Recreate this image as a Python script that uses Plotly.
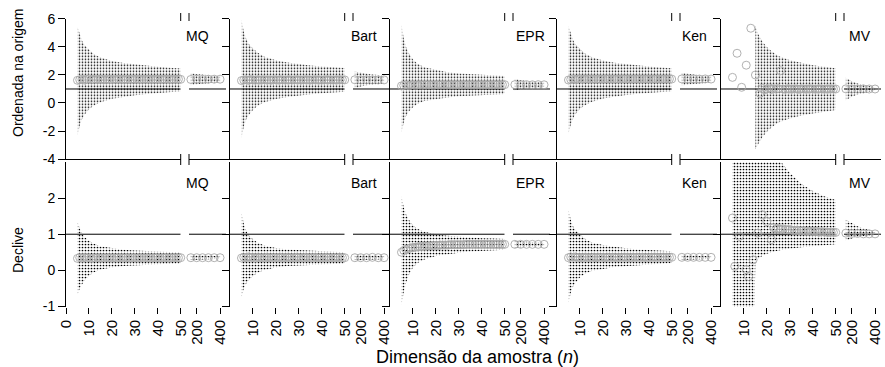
import plotly.graph_objects as go

# ---------------------------------------------------------------- data
METHODS = ["MQ", "Bart", "EPR", "Ken", "MV"]
N_SMALL = [5, 6, 7, 8, 9, 10, 11, 12, 13, 14,
           15, 16, 17, 18, 19, 20, 21, 22, 23, 24,
           25, 26, 27, 28, 29, 30, 31, 32, 33, 34,
           35, 36, 37, 38, 39, 40, 41, 42, 43, 44,
           45, 46, 47, 48, 49, 50]
N_LARGE = [150, 200, 250, 300, 350, 400]
BAND_N = [5, 6, 7, 8, 10, 12, 15, 20, 25, 30, 35, 40, 45, 50]
MV_BAND_N_INT = [15, 16, 18, 20, 22, 25, 30, 35, 40, 45, 50]
MV_BAND_N_SLOPE = [5, 14, 15, 18, 20, 25, 30, 35, 40, 45, 50]
TRUE_INTERCEPT = 1.0
TRUE_SLOPE = 1.0
X_TICKS_SMALL_FIRST = [0, 10, 20, 30, 40, 50]
X_TICKS_SMALL = [10, 20, 30, 40, 50]
X_TICKS_LARGE = [200, 400]
Y_TICKS_INT = [-4, -2, 0, 2, 4, 6]
Y_TICKTEXT_INT = ["-4", "-2", "0", "2", "4", "6"]
Y_TICKS_SLOPE = [-1, 0, 1, 2]
Y_TICKTEXT_SLOPE = ["-1", "0", "1", "2"]

# ---- intercept ("Ordenada na origem"), mean estimates for N_SMALL
MQ_INT_MEAN = [1.62, 1.66, 1.70, 1.64, 1.68, 1.72, 1.66, 1.69, 1.71, 1.67,
               1.70, 1.68, 1.66, 1.70, 1.69, 1.67, 1.71, 1.68, 1.70, 1.69,
               1.67, 1.70, 1.68, 1.69, 1.71, 1.68, 1.70, 1.69, 1.68, 1.70,
               1.69, 1.70, 1.68, 1.69, 1.70, 1.69, 1.68, 1.70, 1.69, 1.70,
               1.69, 1.68, 1.70, 1.69, 1.70, 1.69]
BART_INT_MEAN = [1.60, 1.64, 1.66, 1.62, 1.67, 1.65, 1.63, 1.66, 1.64, 1.65,
                 1.66, 1.64, 1.65, 1.63, 1.66, 1.65, 1.64, 1.66, 1.65, 1.64,
                 1.65, 1.66, 1.64, 1.65, 1.66, 1.65, 1.64, 1.65, 1.66, 1.65,
                 1.64, 1.65, 1.66, 1.65, 1.65, 1.64, 1.65, 1.66, 1.65, 1.65,
                 1.64, 1.65, 1.65, 1.66, 1.65, 1.65]
EPR_INT_MEAN = [1.22, 1.26, 1.30, 1.24, 1.28, 1.31, 1.27, 1.29, 1.32, 1.28,
                1.30, 1.29, 1.31, 1.30, 1.28, 1.31, 1.30, 1.29, 1.31, 1.30,
                1.29, 1.31, 1.30, 1.30, 1.31, 1.29, 1.30, 1.31, 1.30, 1.30,
                1.31, 1.30, 1.29, 1.30, 1.31, 1.30, 1.30, 1.31, 1.30, 1.30,
                1.31, 1.30, 1.30, 1.31, 1.30, 1.31]
KEN_INT_MEAN = [1.64, 1.68, 1.72, 1.66, 1.70, 1.74, 1.69, 1.72, 1.73, 1.70,
                1.72, 1.71, 1.69, 1.72, 1.71, 1.70, 1.73, 1.71, 1.72, 1.71,
                1.70, 1.72, 1.71, 1.72, 1.73, 1.71, 1.72, 1.71, 1.71, 1.72,
                1.71, 1.72, 1.71, 1.72, 1.72, 1.71, 1.71, 1.72, 1.71, 1.72,
                1.71, 1.71, 1.72, 1.71, 1.72, 1.71]
MV_INT_MEAN = [1.83, None, 3.55, None, 1.12, None, 2.70, None, 5.34, None,
               2.00, None, 0.69, 1.05, 0.95, 1.00, 1.08, 0.97, 1.02, 0.99,
               1.03, 2.30, 1.00, 0.98, 1.02, 1.00, 0.99, 1.01, 1.00, 0.98,
               1.01, 1.00, 0.99, 1.00, 1.01, 1.00, 0.99, 1.00, 1.01, 1.00,
               0.99, 1.00, 1.00, 1.01, 1.00, 1.00]

# ---- intercept bands (BAND_N; MV uses MV_BAND_N_INT)
MQ_INT_HI = [5.45, 4.85, 4.45, 4.15, 3.80, 3.50, 3.25, 3.00, 2.85, 2.75, 2.65, 2.58, 2.52, 2.47]
MQ_INT_LO = [-2.30, -1.60, -1.15, -0.85, -0.45, -0.20, 0.05, 0.30, 0.45, 0.55, 0.65, 0.72, 0.78, 0.83]
BART_INT_HI = [5.95, 5.10, 4.60, 4.25, 3.90, 3.60, 3.30, 3.05, 2.90, 2.78, 2.68, 2.60, 2.54, 2.50]
BART_INT_LO = [-2.50, -1.70, -1.20, -0.90, -0.50, -0.20, 0.05, 0.28, 0.42, 0.53, 0.62, 0.70, 0.76, 0.80]
EPR_INT_HI = [5.60, 4.60, 4.00, 3.60, 3.10, 2.80, 2.55, 2.35, 2.20, 2.10, 2.05, 2.00, 1.96, 1.93]
EPR_INT_LO = [-2.10, -1.40, -0.95, -0.65, -0.30, -0.05, 0.15, 0.30, 0.40, 0.48, 0.53, 0.58, 0.62, 0.65]
KEN_INT_HI = [5.50, 4.90, 4.50, 4.20, 3.85, 3.55, 3.28, 3.03, 2.88, 2.77, 2.67, 2.60, 2.54, 2.49]
KEN_INT_LO = [-2.20, -1.55, -1.10, -0.80, -0.42, -0.18, 0.07, 0.32, 0.47, 0.57, 0.66, 0.73, 0.79, 0.84]
MV_INT_HI = [5.50, 5.00, 4.40, 4.00, 3.70, 3.35, 3.05, 2.85, 2.70, 2.58, 2.48]
MV_INT_LO = [-3.30, -3.00, -2.45, -2.05, -1.75, -1.40, -1.10, -0.90, -0.75, -0.60, -0.50]

# ---- intercept, large samples (N_LARGE)
MQ_INT_MEAN_L = [1.68, 1.70, 1.69, 1.70, 1.70, 1.70]
MQ_INT_HI_L = [2.10, 2.05, 2.00, 1.97, 1.95, 1.93]
MQ_INT_LO_L = [1.27, 1.33, 1.38, 1.42, 1.45, 1.47]
BART_INT_MEAN_L = [1.66, 1.65, 1.66, 1.65, 1.65, 1.65]
BART_INT_HI_L = [2.25, 2.15, 2.08, 2.03, 2.00, 1.97]
BART_INT_LO_L = [1.05, 1.18, 1.27, 1.33, 1.37, 1.40]
EPR_INT_MEAN_L = [1.31, 1.30, 1.31, 1.30, 1.31, 1.30]
EPR_INT_HI_L = [1.70, 1.62, 1.57, 1.53, 1.50, 1.48]
EPR_INT_LO_L = [0.90, 1.00, 1.06, 1.10, 1.13, 1.15]
KEN_INT_MEAN_L = [1.72, 1.71, 1.72, 1.71, 1.72, 1.71]
KEN_INT_HI_L = [2.15, 2.08, 2.02, 1.98, 1.95, 1.93]
KEN_INT_LO_L = [1.25, 1.32, 1.37, 1.41, 1.44, 1.47]
MV_INT_MEAN_L = [1.01, 1.00, 1.00, 1.01, 1.00, 1.00]
MV_INT_HI_L = [1.80, 1.55, 1.40, 1.30, 1.20, 1.12]
MV_INT_LO_L = [0.20, 0.45, 0.60, 0.70, 0.80, 0.88]

# ---- slope ("Declive"), mean estimates for N_SMALL
MQ_SLOPE_MEAN = [0.33, 0.35, 0.34, 0.36, 0.34, 0.35, 0.33, 0.35, 0.34, 0.35,
                 0.34, 0.35, 0.34, 0.35, 0.35, 0.34, 0.35, 0.34, 0.35, 0.35,
                 0.34, 0.35, 0.35, 0.34, 0.35, 0.35, 0.34, 0.35, 0.35, 0.34,
                 0.35, 0.35, 0.34, 0.35, 0.35, 0.35, 0.34, 0.35, 0.35, 0.35,
                 0.34, 0.35, 0.35, 0.35, 0.35, 0.35]
BART_SLOPE_MEAN = [0.34, 0.36, 0.35, 0.37, 0.35, 0.36, 0.34, 0.36, 0.35, 0.35,
                   0.35, 0.36, 0.35, 0.35, 0.36, 0.35, 0.35, 0.36, 0.35, 0.35,
                   0.36, 0.35, 0.35, 0.35, 0.36, 0.35, 0.35, 0.35, 0.36, 0.35,
                   0.35, 0.35, 0.36, 0.35, 0.35, 0.35, 0.35, 0.36, 0.35, 0.35,
                   0.35, 0.35, 0.35, 0.36, 0.35, 0.35]
EPR_SLOPE_MEAN = [0.50, 0.55, 0.58, 0.60, 0.62, 0.63, 0.64, 0.65, 0.66, 0.66,
                  0.67, 0.67, 0.68, 0.68, 0.69, 0.69, 0.69, 0.70, 0.70, 0.70,
                  0.70, 0.71, 0.71, 0.71, 0.71, 0.71, 0.71, 0.71, 0.72, 0.72,
                  0.72, 0.72, 0.72, 0.72, 0.72, 0.72, 0.72, 0.72, 0.72, 0.72,
                  0.72, 0.72, 0.72, 0.72, 0.72, 0.72]
KEN_SLOPE_MEAN = [0.35, 0.37, 0.36, 0.37, 0.35, 0.36, 0.35, 0.36, 0.36, 0.35,
                  0.36, 0.36, 0.35, 0.36, 0.36, 0.36, 0.35, 0.36, 0.36, 0.36,
                  0.36, 0.35, 0.36, 0.36, 0.36, 0.36, 0.36, 0.35, 0.36, 0.36,
                  0.36, 0.36, 0.36, 0.36, 0.35, 0.36, 0.36, 0.36, 0.36, 0.36,
                  0.36, 0.36, 0.36, 0.36, 0.36, 0.36]
MV_SLOPE_MEAN = [1.45, 0.11, None, 0.94, None, None, 0.02, -0.17, None, 0.29,
                 None, 1.03, None, 1.54, None, 1.35, None, 0.85, 1.18, 1.15,
                 1.16, 1.14, 1.15, 1.13, 1.12, 1.13, 1.11, 1.10, 1.11, 1.10,
                 1.09, 1.10, 1.08, 1.09, 1.08, 1.07, 1.08, 1.07, 1.06, 1.07,
                 1.06, 1.06, 1.05, 1.06, 1.05, 1.05]

# ---- slope bands (BAND_N; MV uses MV_BAND_N_SLOPE)
MQ_SLOPE_HI = [1.35, 1.15, 1.02, 0.93, 0.82, 0.74, 0.67, 0.61, 0.57, 0.55, 0.53, 0.52, 0.51, 0.50]
MQ_SLOPE_LO = [-0.68, -0.50, -0.38, -0.28, -0.15, -0.06, 0.02, 0.08, 0.12, 0.14, 0.16, 0.17, 0.18, 0.19]
BART_SLOPE_HI = [1.60, 1.30, 1.10, 0.98, 0.86, 0.77, 0.69, 0.62, 0.58, 0.56, 0.54, 0.52, 0.51, 0.50]
BART_SLOPE_LO = [-0.76, -0.50, -0.37, -0.28, -0.16, -0.07, 0.01, 0.08, 0.12, 0.14, 0.16, 0.17, 0.18, 0.19]
EPR_SLOPE_HI = [2.05, 1.75, 1.55, 1.42, 1.25, 1.15, 1.07, 1.00, 0.96, 0.93, 0.91, 0.89, 0.88, 0.87]
EPR_SLOPE_LO = [-0.95, -0.60, -0.35, -0.15, 0.08, 0.20, 0.30, 0.40, 0.45, 0.49, 0.52, 0.54, 0.56, 0.57]
KEN_SLOPE_HI = [1.68, 1.40, 1.22, 1.12, 1.00, 0.88, 0.78, 0.70, 0.65, 0.61, 0.58, 0.56, 0.54, 0.53]
KEN_SLOPE_LO = [-0.90, -0.62, -0.45, -0.35, -0.20, -0.10, -0.02, 0.04, 0.09, 0.12, 0.15, 0.17, 0.18, 0.20]
MV_SLOPE_HI = [6.00, 6.00, 5.00, 4.20, 3.80, 3.10, 2.70, 2.40, 2.20, 2.05, 1.95]
MV_SLOPE_LO = [-3.00, -3.00, 0.28, 0.40, 0.46, 0.55, 0.60, 0.64, 0.67, 0.70, 0.72]

# ---- slope, large samples (N_LARGE)
MQ_SLOPE_MEAN_L = [0.35, 0.35, 0.35, 0.35, 0.35, 0.35]
MQ_SLOPE_HI_L = [0.44, 0.42, 0.41, 0.40, 0.40, 0.39]
MQ_SLOPE_LO_L = [0.27, 0.29, 0.30, 0.31, 0.32, 0.32]
BART_SLOPE_MEAN_L = [0.35, 0.35, 0.35, 0.36, 0.35, 0.35]
BART_SLOPE_HI_L = [0.45, 0.43, 0.42, 0.41, 0.40, 0.40]
BART_SLOPE_LO_L = [0.26, 0.28, 0.29, 0.30, 0.31, 0.31]
EPR_SLOPE_MEAN_L = [0.72, 0.72, 0.72, 0.72, 0.72, 0.72]
EPR_SLOPE_HI_L = [0.82, 0.80, 0.79, 0.78, 0.77, 0.77]
EPR_SLOPE_LO_L = [0.62, 0.64, 0.65, 0.66, 0.67, 0.67]
KEN_SLOPE_MEAN_L = [0.36, 0.36, 0.36, 0.36, 0.36, 0.36]
KEN_SLOPE_HI_L = [0.44, 0.42, 0.41, 0.40, 0.40, 0.39]
KEN_SLOPE_LO_L = [0.27, 0.29, 0.30, 0.31, 0.32, 0.32]
MV_SLOPE_MEAN_L = [1.03, 1.02, 1.02, 1.01, 1.01, 1.01]
MV_SLOPE_HI_L = [1.40, 1.30, 1.22, 1.16, 1.12, 1.08]
MV_SLOPE_LO_L = [0.82, 0.88, 0.92, 0.95, 0.97, 0.99]

ROWS = [
    dict(title="Ordenada na origem", truth=TRUE_INTERCEPT, yrange=[-4, 6.02],
         yticks=Y_TICKS_INT, yticktext=Y_TICKTEXT_INT,
         panels={
             "MQ": (BAND_N, MQ_INT_LO, MQ_INT_HI, MQ_INT_MEAN, MQ_INT_LO_L, MQ_INT_HI_L, MQ_INT_MEAN_L),
             "Bart": (BAND_N, BART_INT_LO, BART_INT_HI, BART_INT_MEAN, BART_INT_LO_L, BART_INT_HI_L, BART_INT_MEAN_L),
             "EPR": (BAND_N, EPR_INT_LO, EPR_INT_HI, EPR_INT_MEAN, EPR_INT_LO_L, EPR_INT_HI_L, EPR_INT_MEAN_L),
             "Ken": (BAND_N, KEN_INT_LO, KEN_INT_HI, KEN_INT_MEAN, KEN_INT_LO_L, KEN_INT_HI_L, KEN_INT_MEAN_L),
             "MV": (MV_BAND_N_INT, MV_INT_LO, MV_INT_HI, MV_INT_MEAN, MV_INT_LO_L, MV_INT_HI_L, MV_INT_MEAN_L),
         }),
    dict(title="Declive", truth=TRUE_SLOPE, yrange=[-1.01, 3],
         yticks=Y_TICKS_SLOPE, yticktext=Y_TICKTEXT_SLOPE,
         panels={
             "MQ": (BAND_N, MQ_SLOPE_LO, MQ_SLOPE_HI, MQ_SLOPE_MEAN, MQ_SLOPE_LO_L, MQ_SLOPE_HI_L, MQ_SLOPE_MEAN_L),
             "Bart": (BAND_N, BART_SLOPE_LO, BART_SLOPE_HI, BART_SLOPE_MEAN, BART_SLOPE_LO_L, BART_SLOPE_HI_L, BART_SLOPE_MEAN_L),
             "EPR": (BAND_N, EPR_SLOPE_LO, EPR_SLOPE_HI, EPR_SLOPE_MEAN, EPR_SLOPE_LO_L, EPR_SLOPE_HI_L, EPR_SLOPE_MEAN_L),
             "Ken": (BAND_N, KEN_SLOPE_LO, KEN_SLOPE_HI, KEN_SLOPE_MEAN, KEN_SLOPE_LO_L, KEN_SLOPE_HI_L, KEN_SLOPE_MEAN_L),
             "MV": (MV_BAND_N_SLOPE, MV_SLOPE_LO, MV_SLOPE_HI, MV_SLOPE_MEAN, MV_SLOPE_LO_L, MV_SLOPE_HI_L, MV_SLOPE_MEAN_L),
         }),
]

# ---------------------------------------------------------------- layout geometry (pixels)
W, H = 885, 367
FONT = "Liberation Sans, Arial, sans-serif"
PANEL_X0 = [66, 230, 390, 557, 721]          # x pixel of n = 0 in each column
LABEL_X = [197.5, 363.5, 530, 694, 860]      # centre of the method labels
MAIN_W = 114.7                               # width of the 0..50 segment
SMALL_OFF, SMALL_END = 123, 160              # large-n segment, relative to panel origin
SMALL_RANGE = [134, 451]
ROW_PX = [(18.7, 159), (162, 306.8)]         # (top, bottom) pixel of each row
ROW_TITLE_Y = [73, 250]
ROW_LABEL_Y = [36, 182.5]


def px(x):
    return x / W


def py(y):
    return 1 - y / H


fig = go.Figure()
layout = dict(width=W, height=H, margin=dict(l=0, r=0, t=0, b=0, autoexpand=False),
              paper_bgcolor="white", plot_bgcolor="rgba(0,0,0,0)",
              showlegend=False, font=dict(family=FONT, size=13, color="black"))
shapes, annotations = [], []

PATTERN = dict(shape=".", size=3, solidity=0.25, fgcolor="#000000",
               bgcolor="rgba(0,0,0,0)", fillmode="replace")
CIRCLE = dict(symbol="circle-open", size=8, color="#a8a8a8",
              line=dict(width=0.9, color="#a8a8a8"))

for r, row in enumerate(ROWS):
    top_px, bot_px = ROW_PX[r]
    for c, m in enumerate(METHODS):
        k = r * 5 + c
        xm, xs, yi = 2 * k + 1, 2 * k + 2, k + 1
        xm_ref = "x" if xm == 1 else f"x{xm}"
        xs_ref = f"x{xs}"
        y_ref = "y" if yi == 1 else f"y{yi}"
        o = PANEL_X0[c]
        bn, lo, hi, mean, lo_l, hi_l, mean_l = row["panels"][m]

        # dotted bands
        fig.add_trace(go.Scatter(x=bn + bn[::-1], y=hi + lo[::-1], xaxis=xm_ref, yaxis=y_ref,
                                 fill="toself", mode="lines", line=dict(width=0),
                                 fillcolor="rgba(0,0,0,0)", fillpattern=PATTERN, hoverinfo="skip"))
        fig.add_trace(go.Scatter(x=N_LARGE + N_LARGE[::-1], y=hi_l + lo_l[::-1], xaxis=xs_ref,
                                 yaxis=y_ref, fill="toself", mode="lines", line=dict(width=0),
                                 fillcolor="rgba(0,0,0,0)", fillpattern=PATTERN, hoverinfo="skip"))
        # true value line
        fig.add_trace(go.Scatter(x=[0, 50], y=[row["truth"]] * 2, xaxis=xm_ref, yaxis=y_ref,
                                 mode="lines", line=dict(color="black", width=1), hoverinfo="skip"))
        fig.add_trace(go.Scatter(x=SMALL_RANGE, y=[row["truth"]] * 2, xaxis=xs_ref, yaxis=y_ref,
                                 mode="lines", line=dict(color="black", width=1), hoverinfo="skip"))
        # mean estimates
        fig.add_trace(go.Scatter(x=N_SMALL, y=mean, xaxis=xm_ref, yaxis=y_ref, mode="markers",
                                 marker=CIRCLE, cliponaxis=False))
        fig.add_trace(go.Scatter(x=N_LARGE, y=mean_l, xaxis=xs_ref, yaxis=y_ref, mode="markers",
                                 marker=CIRCLE, cliponaxis=False))

        ydom = [py(bot_px), py(top_px)]
        xm_name = "xaxis" if xm == 1 else f"xaxis{xm}"
        xcommon = dict(anchor=y_ref, showgrid=False, zeroline=False, linecolor="black", linewidth=1,
                       tickcolor="black", ticklen=6, tickwidth=1, automargin=False,
                       tickfont=dict(family=FONT, size=15), tickangle=-90)
        if r == 0:
            xcommon.update(showline=True, ticks="", showticklabels=False)
        else:
            xcommon.update(showline=False, ticks="outside", showticklabels=True)
        layout[xm_name] = dict(xcommon, domain=[px(o), px(o + MAIN_W)], range=[0, 50],
                               tickvals=X_TICKS_SMALL_FIRST if c == 0 else X_TICKS_SMALL)
        layout[f"xaxis{xs}"] = dict(xcommon, domain=[px(o + SMALL_OFF), px(o + SMALL_END)],
                                    range=SMALL_RANGE, tickvals=X_TICKS_LARGE)
        y_name = "yaxis" if yi == 1 else f"yaxis{yi}"
        layout[y_name] = dict(anchor=xm_ref, domain=ydom, range=row["yrange"],
                              tickvals=row["yticks"], ticktext=row["yticktext"],
                              showgrid=False, zeroline=False, showline=True, linecolor="black",
                              linewidth=1, ticks="outside", ticklen=7, tickcolor="black",
                              automargin=False, showticklabels=(c == 0),
                              tickfont=dict(family=FONT, size=14))

        # axis-break marks
        if r == 0:
            for bx in (o + MAIN_W, o + SMALL_OFF):
                shapes.append(dict(type="line", xref="paper", yref="paper", x0=px(bx), x1=px(bx),
                                   y0=py(13), y1=py(21), line=dict(color="black", width=1)))
                shapes.append(dict(type="line", xref="paper", yref="paper", x0=px(bx), x1=px(bx),
                                   y0=py(154), y1=py(165), line=dict(color="black", width=1)))
        # method label
        annotations.append(dict(text=m, xref="paper", yref="paper", x=px(LABEL_X[c]),
                                y=py(ROW_LABEL_Y[r]), showarrow=False,
                                font=dict(family=FONT, size=14), xanchor="center", yanchor="middle"))

    annotations.append(dict(text=row["title"], xref="paper", yref="paper", x=px(18),
                            y=py(ROW_TITLE_Y[r]), textangle=-90, showarrow=False,
                            font=dict(family=FONT, size=14), xanchor="center", yanchor="middle"))

annotations.append(dict(text="Dimensão da amostra (<i>n</i>)", xref="paper", yref="paper",
                        x=px(477), y=py(357), showarrow=False,
                        font=dict(family=FONT, size=18), xanchor="center", yanchor="middle"))

layout["shapes"] = shapes
layout["annotations"] = annotations
fig.update_layout(**layout)
fig.write_html("out.html", config={"displayModeBar": False, "staticPlot": True},
               post_script="document.body.style.margin='0';document.body.style.padding='0';"
                           "document.body.style.overflow='hidden';")
